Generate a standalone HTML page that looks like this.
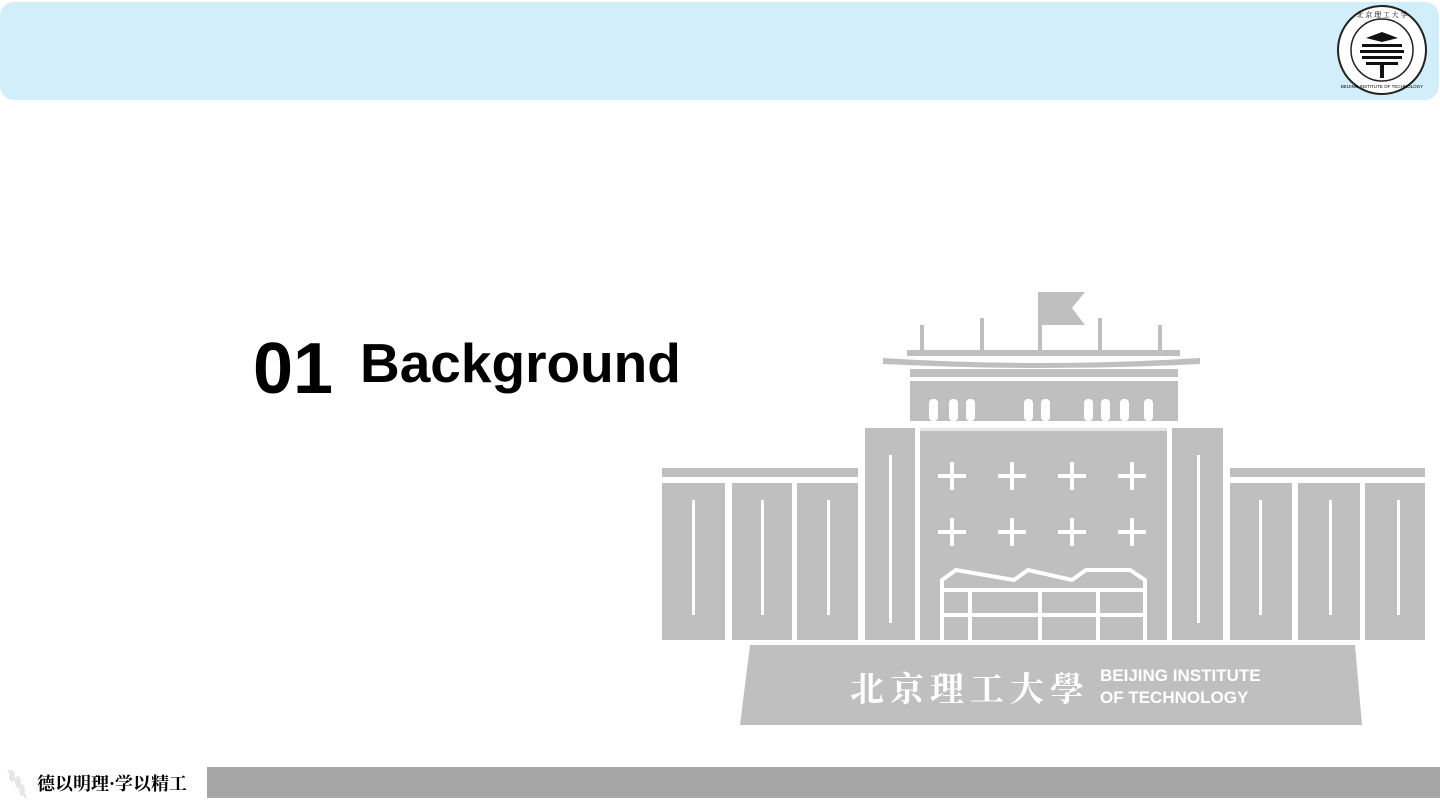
<!DOCTYPE html>
<html><head><meta charset="utf-8"><style>
html,body{margin:0;padding:0;width:1440px;height:810px;overflow:hidden;background:#fff;font-family:"Liberation Sans","Noto Sans CJK SC",sans-serif;}
#hdr{position:absolute;left:0;top:2px;width:1439px;height:98px;background:#d3eefb;border-radius:14px;}
.t{position:absolute;font-weight:bold;color:#000;white-space:nowrap;}
#bar{position:absolute;left:207px;top:767px;width:1233px;height:31px;background:#a6a6a6;}
#motto{position:absolute;left:37px;top:770px;font-size:18px;font-family:"Noto Serif CJK SC","WenQuanYi Zen Hei",serif;font-weight:bold;white-space:nowrap;}
</style></head><body>
<div id="hdr"></div>
<svg style="position:absolute;left:1336px;top:4px" width="92" height="92">
<circle cx="46" cy="46" r="44" fill="#fff" stroke="#222" stroke-width="2"/>
<circle cx="46" cy="46" r="31" fill="none" stroke="#222" stroke-width="1.5"/>
<g fill="#111"><rect x="26" y="40" width="40" height="3"/><rect x="24" y="46" width="44" height="3"/><rect x="26" y="52" width="40" height="3"/><rect x="30" y="58" width="32" height="3"/><rect x="44" y="60" width="4" height="14"/><path d="M30 34 L46 28 L62 34 L46 38Z"/></g>
<text x="46" y="13" font-size="7" text-anchor="middle" font-family="Noto Serif CJK SC,serif">北 京 理 工 大 学</text>
<text x="46" y="84" font-size="4.5" text-anchor="middle" font-family="Liberation Sans,sans-serif">BEIJING INSTITUTE OF TECHNOLOGY</text>
</svg>
<div class="t" style="left:253px;top:328px;font-size:72px;">01</div>
<div class="t" style="left:360px;top:331px;font-size:55px;">Background</div>
<svg style="position:absolute;left:0;top:0" width="1440" height="810">
<g fill="#bfbfbf">
<rect x="1038" y="292" width="4" height="60"/><path d="M1038 292 H1085 L1072 308 L1085 325 H1038Z"/>
<rect x="920" y="325" width="4" height="27"/><rect x="980" y="318" width="4" height="34"/><rect x="1098" y="318" width="4" height="34"/><rect x="1158" y="325" width="4" height="27"/>
<rect x="907" y="350" width="273" height="6"/>
<path d="M883 358 Q1040 368 1200 358 L1200 364 Q1040 372 883 364Z"/>
<rect x="910" y="369" width="268" height="8"/>
<rect x="910" y="381" width="268" height="40"/>
<rect x="865" y="428" width="50" height="212"/><rect x="920" y="428" width="247" height="212"/><rect x="1172" y="428" width="51" height="212"/>
<rect x="662" y="468" width="196" height="9"/><rect x="662" y="483" width="63" height="157"/><rect x="732" y="483" width="60" height="157"/><rect x="797" y="483" width="61" height="157"/>
<rect x="1230" y="468" width="195" height="9"/><rect x="1230" y="483" width="62" height="157"/><rect x="1298" y="483" width="62" height="157"/><rect x="1365" y="483" width="60" height="157"/>
<path d="M750 645 H1355 L1362 725 H740Z"/>
</g>
<g fill="#fff">
<rect x="929" y="399" width="9" height="22" rx="4"/><rect x="949" y="399" width="9" height="22" rx="4"/><rect x="966" y="399" width="9" height="22" rx="4"/><rect x="1024" y="399" width="9" height="22" rx="4"/><rect x="1041" y="399" width="9" height="22" rx="4"/><rect x="1084" y="399" width="9" height="22" rx="4"/><rect x="1101" y="399" width="9" height="22" rx="4"/><rect x="1120" y="399" width="9" height="22" rx="4"/><rect x="1144" y="399" width="9" height="22" rx="4"/>
<rect x="920" y="428" width="247" height="3" opacity=".6"/>
<rect x="889" y="455" width="3" height="168"/><rect x="1197" y="455" width="3" height="168"/>
<rect x="692" y="500" width="3" height="115"/><rect x="761" y="500" width="3" height="115"/><rect x="827" y="500" width="3" height="115"/>
<rect x="1259" y="500" width="3" height="115"/><rect x="1329" y="500" width="3" height="115"/><rect x="1397" y="500" width="3" height="115"/>
<rect x="938" y="474" width="28" height="4"/><rect x="950" y="462" width="4" height="28"/>
<rect x="998" y="474" width="28" height="4"/><rect x="1010" y="462" width="4" height="28"/>
<rect x="1058" y="474" width="28" height="4"/><rect x="1070" y="462" width="4" height="28"/>
<rect x="1118" y="474" width="28" height="4"/><rect x="1130" y="462" width="4" height="28"/>
<rect x="938" y="530" width="28" height="4"/><rect x="950" y="518" width="4" height="28"/>
<rect x="998" y="530" width="28" height="4"/><rect x="1010" y="518" width="4" height="28"/>
<rect x="1058" y="530" width="28" height="4"/><rect x="1070" y="518" width="4" height="28"/>
<rect x="1118" y="530" width="28" height="4"/><rect x="1130" y="518" width="4" height="28"/>
</g>
<path d="M942 640 V580 L956 570 L1014 580 L1028 570 L1072 580 L1086 570 L1130 570 L1145 580 V640 M942 590 H1145 M970 590 V640 M1040 590 V640 M1098 590 V640 M942 615 H1145" fill="none" stroke="#fff" stroke-width="4"/>
<text x="850" y="701" font-size="34" fill="#fff" font-family="Noto Serif CJK SC,serif" font-weight="bold" letter-spacing="6">北京理工大學</text>
<text x="1100" y="681" font-size="17" fill="#fff" font-weight="bold" font-family="Liberation Sans,sans-serif">BEIJING INSTITUTE</text>
<text x="1100" y="703" font-size="17" fill="#fff" font-weight="bold" font-family="Liberation Sans,sans-serif">OF TECHNOLOGY</text>
</svg>
<svg style="position:absolute;left:4px;top:766px" width="26" height="34"><path d="M4 4 Q14 16 22 32" stroke="#ddd" stroke-width="1.5" fill="none"/><g fill="#e6e6e6"><ellipse cx="8" cy="10" rx="3" ry="6"/><ellipse cx="14" cy="16" rx="3" ry="6"/><ellipse cx="18" cy="24" rx="3" ry="6"/></g></svg>
<div id="motto">德以明理·学以精工</div>
<div id="bar"></div>
</body></html>
